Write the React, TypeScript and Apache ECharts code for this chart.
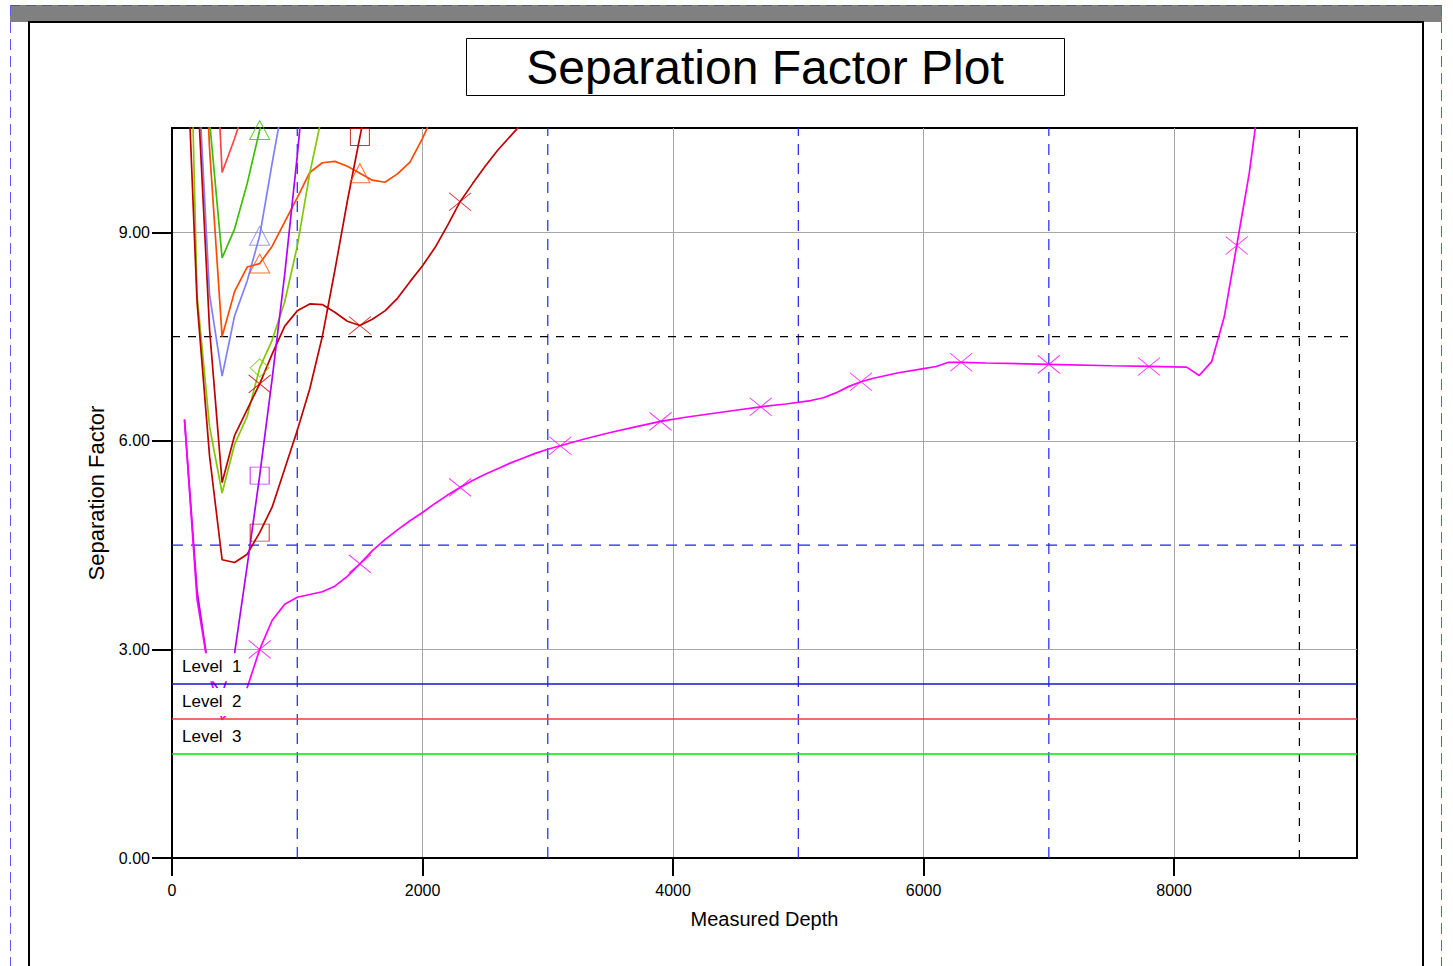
import React, { useEffect, useRef } from "react";
import * as echarts from "echarts";

const FONT = "'Liberation Sans', Arial, Helvetica, sans-serif";

// ---- axes ----
const X_MIN = 0;
const X_MAX = 9460;
const Y_MIN = 0;
const Y_MAX = 10.5;
const xTickValues = [0, 2000, 4000, 6000, 8000];
const yTickValues = [0, 3, 6, 9];

// ---- reference lines ----
const blueDashDepths = [1000, 3000, 5000, 7000];
const blackDashDepths = [9000];
const blueDashSF = [4.5];
const blackDashSF = [7.5];

// ---- level lines ----
const levelNames = ["Level  1", "Level  2", "Level  3"];
const levelValues = [2.5, 2.0, 1.5];
const levelColors = ["#1414d0", "#ff3636", "#00e600"];

// ---- marker depths ----
const shortMarkerDepths = [700, 1500, 2300];
const magentaMarkerDepths = [700, 1500, 2300, 3100, 3900, 4700, 5500, 6300, 7000, 7800, 8500];

// ---- well curves (depth, separation factor) ----
const magentaDepths = [100, 200, 300, 400, 500, 600, 700, 800, 900, 1000, 1100, 1200, 1300, 1400, 1500, 1600, 1700, 1800, 1900, 2000, 2100, 2200, 2300, 2400, 2500, 2600, 2700, 2800, 2900, 3000, 3100, 3300, 3500, 3700, 3900, 4100, 4300, 4500, 4700, 4900, 5100, 5200, 5300, 5400, 5500, 5600, 5800, 6000, 6100, 6200, 6300, 6500, 7000, 7500, 7800, 8100, 8200, 8300, 8400, 8500, 8600, 8700];
const magentaSF = [6.31, 3.72, 2.62, 1.99, 2.2, 2.45, 3.0, 3.42, 3.65, 3.75, 3.79, 3.83, 3.91, 4.05, 4.23, 4.42, 4.58, 4.72, 4.85, 4.97, 5.1, 5.22, 5.33, 5.43, 5.52, 5.6, 5.68, 5.75, 5.82, 5.88, 5.93, 6.03, 6.12, 6.2, 6.28, 6.34, 6.39, 6.44, 6.49, 6.53, 6.58, 6.62, 6.69, 6.78, 6.85, 6.9, 6.98, 7.04, 7.07, 7.13, 7.13, 7.12, 7.1, 7.08, 7.07, 7.06, 6.94, 7.14, 7.78, 8.81, 9.85, 11.2];

const purpleDepths = [100, 200, 300, 400, 500, 600, 700, 800, 900, 1000, 1100];
const purpleSF = [6.3, 3.85, 2.6, 2.35, 2.95, 4.2, 5.5, 6.9, 8.4, 10.1, 12.0];

const darkRedXDepths = [200, 300, 400, 500, 600, 700, 800, 900, 1000, 1100, 1200, 1300, 1400, 1500, 1600, 1700, 1800, 1900, 2000, 2100, 2200, 2300, 2400, 2500, 2600, 2700, 2800, 2900];
const darkRedXSF = [11.2, 7.6, 5.4, 6.08, 6.45, 6.82, 7.25, 7.65, 7.87, 7.97, 7.96, 7.85, 7.72, 7.66, 7.75, 7.87, 8.05, 8.29, 8.52, 8.78, 9.1, 9.44, 9.7, 9.95, 10.18, 10.38, 10.58, 10.8];

const darkRedSqDepths = [100, 200, 300, 400, 500, 600, 700, 800, 900, 1000, 1100, 1200, 1300, 1400, 1500, 1600];
const darkRedSqSF = [12.5, 8.0, 5.78, 4.29, 4.25, 4.37, 4.68, 5.05, 5.6, 6.15, 6.75, 7.5, 8.45, 9.45, 10.37, 11.3];

const yellowGreenDepths = [100, 200, 300, 400, 500, 600, 700, 800, 900, 1000, 1100, 1200];
const yellowGreenSF = [15.6, 8.1, 6.2, 5.25, 5.95, 6.35, 7.05, 7.45, 8.0, 8.8, 9.85, 10.7];

const lightBlueDepths = [100, 200, 300, 400, 500, 600, 700, 800, 900];
const lightBlueSF = [16.0, 11.6, 8.1, 6.93, 7.8, 8.3, 8.95, 10.0, 11.0];

const orangeDepths = [200, 300, 400, 500, 600, 700, 800, 900, 1000, 1100, 1200, 1300, 1400, 1500, 1600, 1700, 1800, 1900, 2000, 2100];
const orangeSF = [14.0, 10.2, 7.5, 8.15, 8.5, 8.55, 8.8, 9.15, 9.5, 9.86, 10.0, 10.02, 9.95, 9.85, 9.75, 9.72, 9.84, 10.01, 10.35, 10.75];

const greenDepths = [200, 300, 400, 500, 600, 700, 800];
const greenSF = [14.0, 10.6, 8.63, 9.05, 9.7, 10.47, 11.3];

const lightRedDepths = [300, 400, 500, 600];
const lightRedSF = [13.6, 9.86, 10.35, 10.9];

const X_SYMBOL = "path://M0,0L20,18M20,0L0,18";

const wells = [
  { name: "Light red", depths: lightRedDepths, values: lightRedSF, color: "#ff4444", symbol: "triangle", size: [20, 19], markers: shortMarkerDepths },
  { name: "Green", depths: greenDepths, values: greenSF, color: "#3cbf00", symbol: "triangle", size: [20, 19], markers: shortMarkerDepths },
  { name: "Light blue", depths: lightBlueDepths, values: lightBlueSF, color: "#8080ff", symbol: "triangle", size: [20, 19], markers: shortMarkerDepths },
  { name: "Orange", depths: orangeDepths, values: orangeSF, color: "#ff4a00", symbol: "triangle", size: [20, 19], markers: shortMarkerDepths },
  { name: "Yellow green", depths: yellowGreenDepths, values: yellowGreenSF, color: "#80c800", symbol: "diamond", size: [19, 18], markers: shortMarkerDepths },
  { name: "Dark red X", depths: darkRedXDepths, values: darkRedXSF, color: "#c00000", symbol: X_SYMBOL, size: [22, 18], markers: shortMarkerDepths },
  { name: "Dark red square", depths: darkRedSqDepths, values: darkRedSqSF, color: "#c00000", symbol: "rect", size: [19, 17], markers: shortMarkerDepths },
  { name: "Purple", depths: purpleDepths, values: purpleSF, color: "#b000ff", symbol: "rect", size: [19, 17], markers: shortMarkerDepths },
  { name: "Magenta", depths: magentaDepths, values: magentaSF, color: "#ff00ff", symbol: X_SYMBOL, size: [22, 18], markers: magentaMarkerDepths },
];

function refLine(name: string, color: string, dash: number[], pts: number[][]) {
  return {
    type: "line",
    name,
    data: pts,
    showSymbol: false,
    symbol: "none",
    silent: true,
    clip: true,
    z: 1,
    lineStyle: { color, type: dash, width: 1.2 },
    itemStyle: { color },
    emphasis: { disabled: true },
  };
}

function buildOption(): echarts.EChartsOption {
  const series: any[] = [];

  blueDashDepths.forEach((d) =>
    series.push(refLine("blue ref " + d, "#1f1fff", [11, 8], [[d, Y_MIN], [d, Y_MAX]]))
  );
  blackDashDepths.forEach((d) =>
    series.push(refLine("black ref " + d, "#000000", [8, 8], [[d, Y_MIN], [d, Y_MAX]]))
  );
  blueDashSF.forEach((v) =>
    series.push(refLine("blue ref sf " + v, "#1f1fff", [11, 8], [[X_MIN, v], [X_MAX, v]]))
  );
  blackDashSF.forEach((v) =>
    series.push(refLine("black ref sf " + v, "#000000", [8, 8], [[X_MIN, v], [X_MAX, v]]))
  );

  wells.forEach((w) => {
    const pts = w.depths.map((d, i) => [d, w.values[i]]);
    series.push({
      type: "line",
      name: w.name,
      data: pts,
      showSymbol: false,
      symbol: "none",
      clip: true,
      z: 3,
      lineStyle: { color: w.color, width: 1.7 },
      itemStyle: { color: w.color },
      emphasis: { disabled: true },
    });
    series.push({
      type: "scatter",
      name: w.name + " markers",
      data: pts.filter((p) => w.markers.includes(p[0])),
      symbol: w.symbol,
      symbolSize: w.size,
      clip: true,
      z: 3,
      itemStyle: { color: "rgba(0,0,0,0)", borderColor: w.color, borderWidth: 1 },
      emphasis: { disabled: true },
    });
  });

  // level lines with labels
  levelValues.forEach((v, i) => {
    series.push({
      type: "line",
      name: "level " + (i + 1),
      data: [],
      markLine: {
        silent: true,
        z: 10,
        symbol: ["none", "none"],
        animation: false,
        lineStyle: { color: levelColors[i], type: "solid", width: 1.6 },
        emphasis: { disabled: true },
        label: {
          show: true,
          position: "insideStartTop",
          formatter: levelNames[i],
          color: "#000",
          fontSize: 17,
          fontFamily: FONT,
          backgroundColor: "#ffffff",
          padding: [5, 6, 6, 8],
          distance: [2, 3],
        },
        data: [{ yAxis: v }],
      },
    });
  });

  return {
    animation: false,
    backgroundColor: "#ffffff",
    grid: {
      left: 172,
      top: 128,
      width: 1185,
      height: 730,
      show: true,
      borderColor: "#000",
      borderWidth: 2,
      backgroundColor: "transparent",
    },
    xAxis: {
      type: "value",
      min: X_MIN,
      max: X_MAX,
      interval: 2000,
      name: "Measured Depth",
      nameLocation: "middle",
      nameGap: 51,
      nameTextStyle: { fontSize: 20, color: "#000", fontFamily: FONT },
      axisLine: { show: true, lineStyle: { color: "#000", width: 2 } },
      axisTick: { show: true, length: 18, customValues: xTickValues, lineStyle: { color: "#000", width: 2 } },
      axisLabel: {
        show: true,
        customValues: xTickValues,
        margin: 24,
        fontSize: 16,
        color: "#000",
        fontFamily: FONT,
        formatter: (v: number) => String(Math.round(v)),
      },
      splitLine: { show: true, lineStyle: { color: "#a6a6a6", width: 1 } },
    },
    yAxis: {
      type: "value",
      min: Y_MIN,
      max: Y_MAX,
      interval: 3,
      name: "Separation Factor",
      nameLocation: "middle",
      nameGap: 64,
      nameTextStyle: { fontSize: 22, color: "#000", fontFamily: FONT },
      axisLine: { show: true, lineStyle: { color: "#000", width: 2 } },
      axisTick: { show: true, length: 20, customValues: yTickValues, lineStyle: { color: "#000", width: 2 } },
      axisLabel: {
        show: true,
        customValues: yTickValues,
        margin: 22,
        fontSize: 16,
        color: "#000",
        fontFamily: FONT,
        formatter: (v: number) => v.toFixed(2),
      },
      splitLine: { show: true, lineStyle: { color: "#a6a6a6", width: 1 } },
    },
    graphic: [
      { type: "rect", z: -10, shape: { x: 10, y: 5, width: 1432, height: 17 }, style: { fill: "#808080" } },
      { type: "line", z: -9, shape: { x1: 10, y1: 5.5, x2: 1442, y2: 5.5 }, style: { stroke: "#4a4aff", lineDash: [10, 6], lineWidth: 1 } },
      { type: "line", z: -9, shape: { x1: 10.5, y1: 5, x2: 10.5, y2: 966 }, style: { stroke: "#5a5aff", lineDash: [11, 6], lineWidth: 1 } },
      { type: "line", z: -9, shape: { x1: 1441.5, y1: 5, x2: 1441.5, y2: 966 }, style: { stroke: "#5a5aff", lineDash: [11, 6], lineWidth: 1 } },
      { type: "rect", z: -8, shape: { x: 29, y: 22, width: 1394, height: 980 }, style: { fill: "none", stroke: "#000", lineWidth: 2 } },
      { type: "rect", z: -7, shape: { x: 466.5, y: 38.5, width: 598, height: 57 }, style: { fill: "#fff", stroke: "#000", lineWidth: 1 } },
      {
        type: "text",
        z: -6,
        x: 765,
        y: 67,
        style: {
          text: "Separation Factor Plot",
          fontSize: 48,
          fontFamily: FONT,
          fill: "#000",
          align: "center",
          verticalAlign: "middle",
          textAlign: "center",
          textVerticalAlign: "middle",
        } as any,
      },
    ],
    series,
  } as any;
}

export default function App() {
  const ref = useRef<HTMLDivElement>(null);
  useEffect(() => {
    if (!ref.current) return;
    const chart = echarts.init(ref.current, undefined, { renderer: "svg" });
    chart.setOption(buildOption());
    return () => chart.dispose();
  }, []);
  return (
    <div
      ref={ref}
      style={{ position: "fixed", left: 0, top: 0, width: 1453, height: 966, background: "#fff" }}
    />
  );
}
